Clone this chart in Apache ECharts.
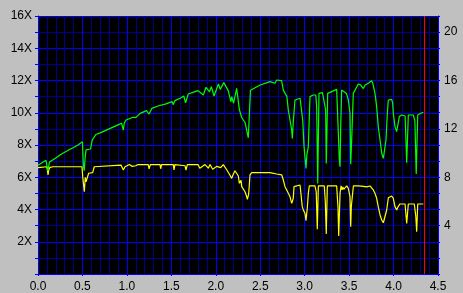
<!DOCTYPE html>
<html><head><meta charset="utf-8">
<script src="https://cdn.jsdelivr.net/npm/echarts@6/dist/echarts.min.js"></script>
<style>html,body{margin:0;padding:0;background:#c0c0c0;}#c{width:463px;height:293px;}</style>
</head><body><div id="c"></div>
<script>
// read speed (left axis, X)
const speedPos = [0.00,0.09,0.11,0.13,0.20,0.25,0.30,0.35,0.40,0.45,0.50,0.51,0.52,0.53,0.54,0.59,0.61,0.65,0.70,0.80,0.90,0.94,0.96,0.97,0.99,1.07,1.10,1.15,1.22,1.25,1.28,1.35,1.44,1.51,1.52,1.54,1.60,1.64,1.66,1.69,1.75,1.80,1.86,1.89,1.93,1.95,1.98,2.03,2.05,2.09,2.14,2.17,2.18,2.20,2.235,2.25,2.265,2.29,2.31,2.33,2.355,2.366,2.38,2.39,2.50,2.61,2.666,2.685,2.70,2.74,2.76,2.78,2.80,2.816,2.835,2.854,2.861,2.872,2.891,2.91,2.948,2.96,2.978,2.993,3.015,3.025,3.041,3.06,3.097,3.125,3.135,3.147,3.161,3.20,3.236,3.243,3.259,3.36,3.375,3.39,3.398,3.405,3.416,3.435,3.47,3.491,3.51,3.518,3.53,3.547,3.603,3.63,3.65,3.66,3.68,3.72,3.754,3.77,3.791,3.81,3.828,3.848,3.867,3.885,3.90,3.915,3.93,3.941,3.979,3.99,3.997,4.016,4.035,4.045,4.065,4.092,4.13,4.148,4.166,4.222,4.24,4.255,4.272,4.30,4.335];
const speedVal = [6.75,7.05,6.40,6.95,7.20,7.40,7.55,7.70,7.85,8.00,8.20,6.75,6.40,7.20,7.70,7.75,8.30,8.65,8.75,9.00,9.25,9.35,8.93,9.35,9.55,9.72,9.70,9.96,10.13,9.92,10.27,10.42,10.55,10.69,10.50,10.75,10.90,11.04,10.62,11.16,11.28,11.37,11.10,11.58,11.30,11.62,11.04,11.78,11.45,11.87,11.37,10.69,11.00,10.59,11.51,11.40,10.21,9.72,9.55,9.38,8.72,8.45,8.50,11.40,11.72,11.93,11.83,12.03,12.13,11.99,11.41,11.20,11.00,10.17,9.55,8.93,8.41,9.44,10.79,10.83,10.90,10.80,9.55,7.90,6.55,7.40,7.90,11.00,11.10,11.10,10.38,5.62,11.20,11.25,10.17,6.86,11.20,11.45,11.40,7.07,6.65,9.00,11.41,11.51,11.20,10.79,9.97,6.80,8.50,11.20,11.78,11.72,11.65,11.50,11.72,11.85,11.99,11.75,11.20,10.38,9.14,8.31,7.48,7.17,7.20,8.31,9.97,10.79,10.83,10.60,9.97,9.14,8.83,8.90,9.76,9.86,9.80,6.90,9.86,9.86,9.50,6.20,9.86,9.95,10.03];
// second trace (right axis)
const rpmPos = [0.00,0.10,0.113,0.12,0.135,0.17,0.495,0.503,0.521,0.532,0.54,0.559,0.57,0.615,0.633,0.653,0.934,0.96,0.979,1.027,1.06,1.08,1.10,1.125,1.24,1.25,1.264,1.373,1.38,1.39,1.522,1.53,1.54,1.654,1.665,1.68,1.80,1.82,1.84,1.879,1.916,1.935,1.965,1.98,2.01,2.028,2.055,2.085,2.104,2.13,2.152,2.179,2.198,2.216,2.235,2.254,2.265,2.284,2.292,2.31,2.329,2.348,2.355,2.37,2.385,2.404,2.61,2.63,2.685,2.742,2.76,2.779,2.798,2.816,2.835,2.854,2.872,2.88,2.898,2.948,2.962,2.973,2.985,3.004,3.015,3.03,3.041,3.052,3.116,3.13,3.142,3.154,3.221,3.232,3.243,3.255,3.36,3.375,3.383,3.398,3.41,3.42,3.43,3.44,3.473,3.49,3.51,3.518,3.525,3.548,3.603,3.62,3.66,3.698,3.735,3.754,3.772,3.791,3.81,3.828,3.848,3.867,3.885,3.904,3.923,3.941,3.952,3.979,3.997,4.016,4.035,4.053,4.073,4.129,4.148,4.166,4.233,4.25,4.26,4.272,4.335];
const rpmVal = [8.79,8.87,8.19,8.60,8.82,8.87,8.87,8.05,6.80,8.00,7.63,7.63,8.33,8.38,8.87,9.01,9.01,8.60,8.87,9.05,8.90,9.05,8.95,9.05,9.05,8.70,9.05,9.05,8.70,9.05,9.05,8.60,9.05,8.95,8.60,9.05,9.05,8.75,8.70,9.05,8.75,9.05,8.66,8.60,8.90,9.05,8.80,9.05,9.05,8.54,8.27,7.91,8.27,8.54,8.66,8.10,7.50,7.75,7.22,7.10,6.80,6.39,6.17,6.60,8.19,8.38,8.38,8.27,8.27,8.19,7.77,7.22,6.95,6.67,6.39,5.84,6.26,7.22,7.36,7.36,7.20,5.57,5.29,5.00,4.40,5.50,6.67,7.28,7.28,6.80,3.70,7.28,7.28,6.00,3.30,7.28,7.28,5.50,3.15,6.67,7.28,6.95,7.20,7.00,7.28,7.10,6.39,3.91,5.60,7.28,7.28,7.20,7.25,7.20,7.28,7.36,6.95,6.67,6.26,5.57,4.88,4.47,4.24,4.40,5.29,6.30,6.45,6.45,6.26,5.57,5.29,5.60,5.79,5.79,4.19,5.79,5.79,4.80,3.50,5.79,5.79];
const markerPos = 4.346;
const xTickLabels = ['0.0','0.5','1.0','1.5','2.0','2.5','3.0','3.5','4.0','4.5'];
const leftTickLabels = ['2X','4X','6X','8X','10X','12X','14X','16X'];
const rightTickLabels = ['4','8','12','16','20'];

const BLUE = '#0000ff', DARK = '#000090';
const font = {color:'#000', fontFamily:'Liberation Sans', fontSize:12};
const chart = echarts.init(document.getElementById('c'), null, {renderer:'canvas'});
chart.setOption({
  animation:false,
  backgroundColor:'#c0c0c0',
  grid:{left:38, right:25, top:16, bottom:19, show:true, backgroundColor:'#000', borderWidth:0},
  xAxis:{type:'value', min:0, max:4.5, interval:0.5,
    axisLine:{show:true, onZero:false, lineStyle:{color:BLUE, width:1}},
    axisTick:{show:true, length:2, lineStyle:{color:BLUE}},
    minorTick:{show:false},
    splitLine:{show:true, lineStyle:{color:BLUE, width:1}},
    minorSplitLine:{show:true, lineStyle:{color:DARK, width:1}},
    axisLabel:Object.assign({margin:7, formatter:v=>{const i=Math.round(v/0.5);return Math.abs(v-i*0.5)<1e-6?(xTickLabels[i]||''):'';}}, font)
  },
  yAxis:[{type:'value', min:0, max:16, interval:2, position:'left',
    axisLine:{show:true, onZero:false, lineStyle:{color:BLUE, width:1}},
    axisTick:{show:true, length:3, lineStyle:{color:BLUE}},
    minorTick:{show:true, splitNumber:2, length:3, lineStyle:{color:BLUE}},
    splitLine:{show:true, lineStyle:{color:BLUE, width:1}},
    minorSplitLine:{show:true, lineStyle:{color:DARK, width:1}},
    axisLabel:Object.assign({margin:6, formatter:v=>{const i=Math.round(v/2)-1;return (i>=0&&Math.abs(v-(i+1)*2)<1e-6)?(leftTickLabels[i]||''):'';}}, font)
  },{type:'value', min:0, max:64/3, interval:4/3, position:'right',
    axisLine:{show:true, onZero:false, lineStyle:{color:BLUE, width:1}},
    axisTick:{show:true, length:2, lineStyle:{color:BLUE}},
    splitLine:{show:false},
    axisLabel:Object.assign({margin:6, formatter:v=>{const i=Math.round(v/4)-1;return (i>=0&&Math.abs(v-(i+1)*4)<1e-3)?(rightTickLabels[i]||''):'';}}, font)
  }],
  series:[
    {type:'line', yAxisIndex:1, showSymbol:false, silent:true,
     lineStyle:{color:'#ffff00', width:1.2}, itemStyle:{color:'#ffff00'},
     data:rpmPos.map((x,i)=>[x,rpmVal[i]])},
    {type:'line', yAxisIndex:0, showSymbol:false, silent:true,
     lineStyle:{color:'#00ff00', width:1.2}, itemStyle:{color:'#00ff00'},
     data:speedPos.map((x,i)=>[x,speedVal[i]]),
     markLine:{silent:true, symbol:'none', label:{show:false}, lineStyle:{color:'#ff0000', width:1, type:'solid'},
       data:[{xAxis:markerPos}]}}
  ]
});
</script></body></html>
